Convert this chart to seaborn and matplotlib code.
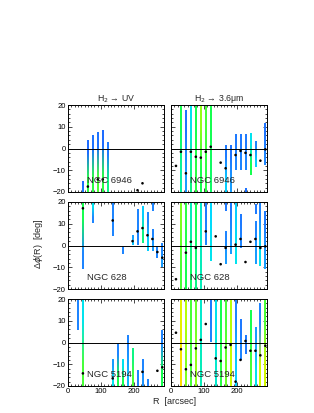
import matplotlib

matplotlib.use("Agg")
import matplotlib.pyplot as plt
import pandas as pd
import seaborn as sns
from matplotlib.colors import LinearSegmentedColormap
from matplotlib.ticker import MultipleLocator

galaxies = ["NGC 6946", "NGC 628", "NGC 5194"]
tracers = ["H$_2$ → UV", "H$_2$ → 3.6μm"]

# bars: (R, lower, upper, colour at top, colour at bottom); colour 0 = blue ... 1 = orange
bars_6946_uv = [
    (45, -20, -15.3, 0.08, 0.12), (60, -20, 3.9, 0.08, 0.52), (75, -20, 6.2, 0.1, 0.52),
    (90, -20, 7.3, 0.1, 0.55), (105, -20, 8.5, 0.08, 0.52), (120, -20, 2.7, 0.12, 0.45),
]
dots_6946_uv_r = [60, 90, 105, 210, 225]
dots_6946_uv_y = [-17.5, -14.2, -14.2, -19.2, -16.0]

bars_6946_ir = [
    (30, -20, 20, 0.5, 0.42), (45, -20, 17.5, 0.1, 0.2), (60, -20, 20, 0.35, 0.45),
    (75, -20, 20, 0.5, 0.52), (90, -20, 20, 0.62, 0.5), (105, -20, 20, 0.55, 0.52),
    (120, -20, 20, 0.5, 0.48), (165, -20, 1.6, 0.12, 0.3), (180, -20, 1.6, 0.1, 0.2),
    (195, -9.9, 6.2, 0.12, 0.15), (210, -9.9, 6.2, 0.12, 0.15), (225, -9.9, 6.2, 0.12, 0.15),
    (225, -20, -18.6, 0.1, 0.1), (240, -12.2, 7.0, 0.35, 0.5), (255, -8.4, 3.1, 0.15, 0.3),
    (285, -7.6, 11.6, 0.1, 0.15),
]
dots_6946_ir_r = [15, 30, 45, 60, 75, 90, 105, 120, 150, 165, 195, 210, 225, 240, 270, 285]
dots_6946_ir_y = [-8.0, -1.5, -11.4, -1.5, -3.8, -4.2, -1.5, 0.8, -6.5, -9.1, -3.0, -1.1, -2.0, -3.0, -5.6, -0.4]

bars_628_uv = [
    (45, -10.6, 20, 0.5, 0.15), (75, 10.3, 20, 0.35, 0.15), (135, 4.2, 20, 0.15, 0.15),
    (165, -4.1, -1.1, 0.15, 0.15), (195, 0, 4.5, 0.2, 0.28), (210, 0, 16.4, 0.15, 0.15),
    (225, 1.2, 18, 0.3, 0.45), (240, -2.3, 15.5, 0.15, 0.3), (255, 16, 20, 0.15, 0.15),
    (255, -2.3, 7.6, 0.15, 0.2), (270, -5.6, -0.3, 0.15, 0.15), (285, -9.7, 1.2, 0.15, 0.2),
]
dots_628_uv_r = [45, 135, 195, 210, 225, 240, 255, 270, 285]
dots_628_uv_y = [17.1, 11.5, 2.0, 6.5, 8.0, 4.7, 3.0, -3.0, -5.6]

bars_628_ir = [
    (30, -20, 20, 0.6, 0.55), (45, -20, 20, 0.52, 0.5), (60, -20, 20, 0.4, 0.48),
    (75, -20, 20, 0.5, 0.45), (90, -20, 20, 0.38, 0.4), (105, 0, 20, 0.12, 0.15),
    (120, -7.1, 20, 0.32, 0.35), (165, 16, 20, 0.12, 0.12), (165, -8.6, 6.5, 0.15, 0.2),
    (180, -4.1, 20, 0.12, 0.2), (195, -8.6, 20, 0.3, 0.35), (210, -1.1, 14.1, 0.12, 0.15),
    (255, 14.7, 19, 0.12, 0.12), (255, -8.6, 11, 0.15, 0.2), (270, -9.4, 20, 0.15, 0.35),
    (285, -10.6, 16, 0.12, 0.2),
]
dots_628_ir_r = [15, 45, 60, 75, 105, 135, 150, 165, 195, 210, 225, 240, 255, 270, 285]
dots_628_ir_y = [-15.5, -3.3, 1.7, -1.1, 6.5, 4.2, -8.6, -1.1, 0.4, 3.0, -7.6, 1.7, 3.0, -1.1, -0.4]

bars_5194_uv = [
    (30, 5.7, 20, 0.15, 0.15), (45, -20, 20, 0.35, 0.55), (135, -20, -8, 0.2, 0.35),
    (150, -20, -1.1, 0.15, 0.5), (165, -20, -8, 0.35, 0.5), (180, -20, 3.4, 0.15, 0.25),
    (195, -20, -2.7, 0.45, 0.55), (210, -20, -13, 0.15, 0.15), (225, -20, -8, 0.15, 0.18),
    (240, -20, -17.2, 0.15, 0.15), (285, -20, 5.7, 0.15, 0.5),
]
dots_5194_uv_r = [45, 135, 225, 270, 285]
dots_5194_uv_y = [-14.2, -16.5, -13.5, -13.0, -11.4]

bars_5194_ir = [
    (30, -20, 20, 0.75, 0.85), (45, -20, 20, 0.65, 0.6), (60, -20, 20, 0.55, 0.55),
    (75, -20, 20, 0.58, 0.62), (90, -20, 20, 0.38, 0.4), (120, 0, 20, 0.12, 0.15),
    (135, -20, 20, 0.35, 0.38), (150, -20, 20, 0.5, 0.52), (165, -20, 20, 0.55, 0.58),
    (180, -20, 20, 0.65, 0.68), (195, -20, 20, 0.15, 0.3), (210, -8, 10.6, 0.12, 0.15),
    (225, -5.5, 3, 0.12, 0.12), (240, -20, 14.5, 0.5, 0.55), (255, -20, 6.9, 0.2, 0.35),
    (270, -20, 18, 0.15, 0.7), (285, -20, 20, 0.55, 0.7),
]
dots_5194_ir_r = [15, 30, 45, 60, 75, 90, 105, 135, 150, 165, 180, 195, 210, 225, 240, 255, 270, 285]
dots_5194_ir_y = [4.5, -3.1, -12.3, -10.3, -2.7, 1.2, 8.5, -7.3, -8.5, -2.3, -1.1, -18.0, -8.0, 0.7, -3.8, -3.8, -5.9, -1.5]

panels = [
    [(bars_6946_uv, dots_6946_uv_r, dots_6946_uv_y), (bars_6946_ir, dots_6946_ir_r, dots_6946_ir_y)],
    [(bars_628_uv, dots_628_uv_r, dots_628_uv_y), (bars_628_ir, dots_628_ir_r, dots_628_ir_y)],
    [(bars_5194_uv, dots_5194_uv_r, dots_5194_uv_y), (bars_5194_ir, dots_5194_ir_r, dots_5194_ir_y)],
]

sns.set_theme(style="ticks")
plt.rcParams["font.family"] = ["Liberation Sans", "DejaVu Sans"]
plt.rcParams["mathtext.fontset"] = "dejavusans"

cmap = LinearSegmentedColormap.from_list(
    "idl_rainbow", ["#1e50ff", "#1e8cff", "#00e1ff", "#14ff50", "#c8ff00", "#ffe600", "#ff9614"]
)

W, H = 314, 413
fig = plt.figure(figsize=(W / 100, H / 100), dpi=100)
col_left = [68, 171]
row_top = [105, 202, 299]
pw, ph = 96, 87

for i, row in enumerate(panels):
    for j, (bars, dr, dy) in enumerate(row):
        ax = fig.add_axes([col_left[j] / W, 1 - (row_top[i] + ph) / H, pw / W, ph / H])
        for r, lo, hi, ctop, cbot in bars:
            ax.imshow([[ctop], [cbot]], extent=(r - 2.7, r + 2.7, lo, hi), origin="upper",
                      aspect="auto", cmap=cmap, vmin=0, vmax=1, interpolation="bilinear", zorder=2)
        ax.axhline(0, color="black", lw=0.7, zorder=3)
        dots = pd.DataFrame({"R": dr, "dphi": dy})
        sns.scatterplot(data=dots, x="R", y="dphi", ax=ax, color="black", s=3.5,
                        edgecolor="none", zorder=4, legend=False)
        ax.set_xlim(0, 290)
        ax.set_ylim(-20, 20)
        ax.set_xlabel("")
        ax.set_ylabel("")
        ax.set_xticks([0, 100, 200])
        ax.set_yticks([-20, -10, 0, 10, 20])
        ax.xaxis.set_minor_locator(MultipleLocator(10))
        ax.yaxis.set_minor_locator(MultipleLocator(2))
        ax.tick_params(which="both", direction="in", top=True, right=True, width=0.5,
                       labelsize=5.5, pad=1.5, colors="black")
        ax.tick_params(which="major", length=3)
        ax.tick_params(which="minor", length=1.5)
        if j == 1:
            ax.tick_params(labelleft=False)
        if i < 2:
            ax.tick_params(labelbottom=False)
        for sp in ax.spines.values():
            sp.set_linewidth(0.7)
            sp.set_color("black")
        ax.text(56, -14.5, galaxies[i], fontsize=6.8, va="center", ha="left", zorder=5)
        if i == 0:
            ax.set_title(tracers[j], fontsize=6.3, pad=2.5)

fig.text(0.122, 1 - 244 / H, "Δ$\\phi$(R)  [deg]", rotation=90, fontsize=6.5, ha="center", va="center")
fig.text(0.557, 1 - 402 / H, "R  [arcsec]", fontsize=6.5, ha="center", va="center")

fig.savefig("out.png", dpi=100)
